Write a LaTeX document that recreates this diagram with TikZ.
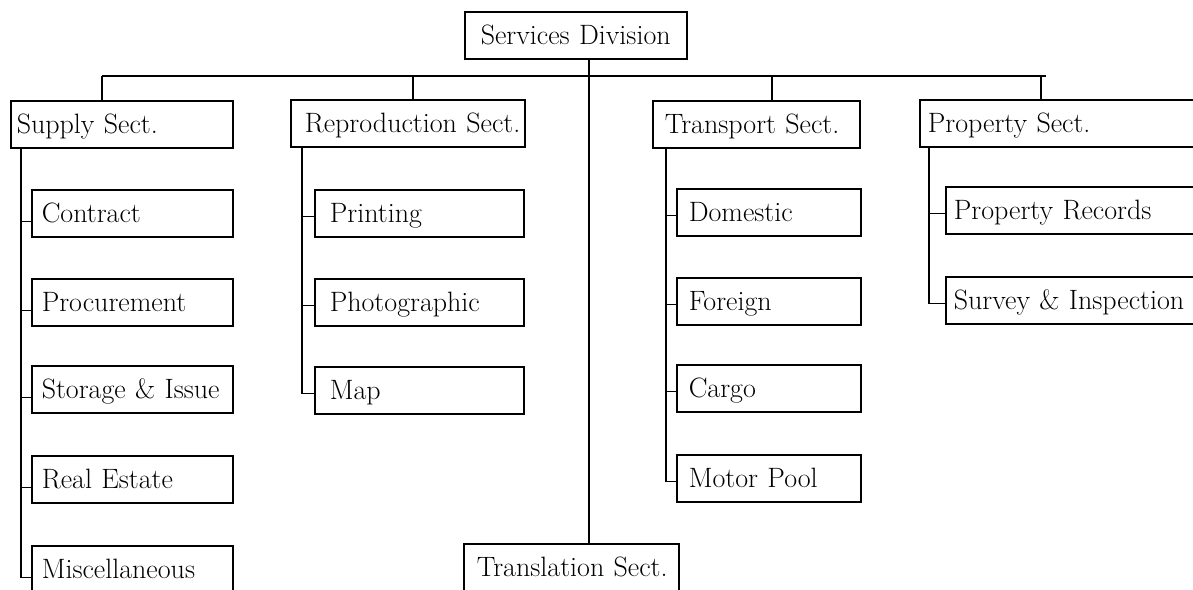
\documentclass[tikz,border=0pt]{standalone}
\usepackage{fontspec}
\usetikzlibrary{positioning}

\begin{document}
\begin{tikzpicture}[x=1pt, y=-1pt,
    unit/.style={draw, line width=1.5pt, anchor=north west, inner xsep=12pt,
      minimum height=47pt, text height=19pt, text depth=0pt, align=left,
      font=\fontsize{28}{32}\selectfont},
    link/.style={line width=1.5pt}
]
\path[use as bounding box, clip] (0,0) rectangle (1193,589);

% division and sections
\node[unit, text width=198pt, align=center] (div) at (464,11) {\mbox{Services Division}};
\node[unit, text width=210pt, inner xsep=6pt] (supply) at (10,100) {\mbox{Supply Sect.}};
\node[unit, text width=206pt, inner xsep=14pt] (repro) at (290,99) {\mbox{Reproduction Sect.}};
\node[unit, text width=183pt] (transport) at (652,100) {\mbox{Transport Sect.}};
\node[unit, text width=300pt, inner xsep=8pt] (property) at (919,99) {\mbox{Property Sect.}};
\node[unit, text width=189pt, inner xsep=13pt] (transl) at (463,543) {\mbox{Translation Sect.}};

\coordinate (b1) at (102,76);
\coordinate (b2) at (413,76);
\coordinate (b3) at (772,76);
\coordinate (b4) at (1041,76);
\draw[link] (b1) -- (1046,76);
\draw[link] (b1) -- (b1 |- supply.north);
\draw[link] (b2) -- (b2 |- repro.north);
\draw[link] (b3) -- (b3 |- transport.north);
\draw[link] (b4) -- (b4 |- property.north);
\draw[link] ([xshift=13pt]div.south) -- ([xshift=13pt]div.south |- transl.north);

% units of each section
\foreach \top/\name [count=\i] in {189/Contract, 278/Procurement, 365/Storage \& Issue,
    455/Real Estate, 545/Miscellaneous}{
  \node[unit, text width=181pt, inner xsep=10pt] (s\i) at (31,\top) {\mbox{\name}};
  \draw[link] ([xshift=11pt]supply.south west) |- ([yshift=-8pt]s\i.west);
}
\foreach \top/\name [count=\i] in {189/Printing, 278/Photographic, 366/Map}{
  \node[unit, text width=179pt, inner xsep=15pt] (r\i) at (314,\top) {\mbox{\name}};
  \draw[link] ([xshift=12pt]repro.south west) |- ([yshift=-3pt]r\i.west);
}
\foreach \top/\name [count=\i] in {188/Domestic, 277/Foreign, 364/Cargo, 454/Motor Pool}{
  \node[unit, text width=160pt] (t\i) at (676,\top) {\mbox{\name}};
  \draw[link] ([xshift=14pt]transport.south west) |- ([yshift=-3pt]t\i.west);
}
\foreach \top/\name [count=\i] in {186/Property Records, 276/Survey \& Inspection}{
  \node[unit, text width=300pt, inner xsep=8pt] (p\i) at (945,\top) {\mbox{\name}};
  \draw[link] ([xshift=10pt]property.south west) |- ([yshift=-3pt]p\i.west);
}

\end{tikzpicture}
\end{document}
